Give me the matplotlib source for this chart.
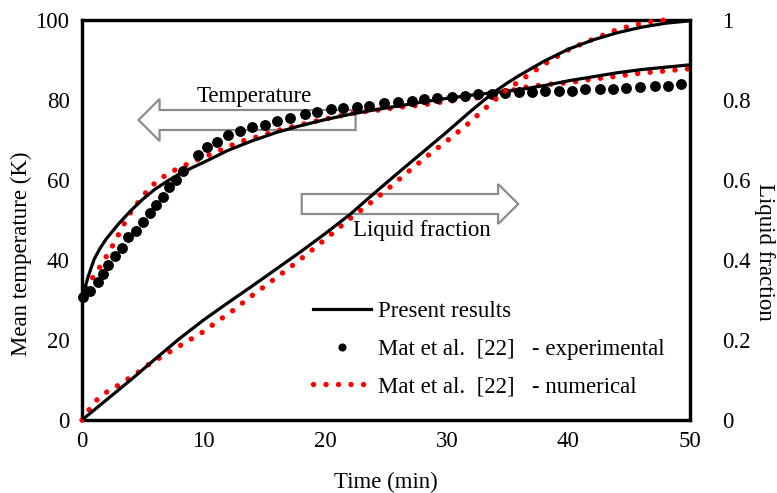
import matplotlib
matplotlib.use("Agg")
import matplotlib.pyplot as plt
from matplotlib.patches import FancyArrow
from matplotlib.lines import Line2D

plt.rcParams['font.family'] = ['Liberation Serif', 'DejaVu Serif']

# ---- data ----
# Present results: mean temperature (K)
t_pres_T = [0, 0.2, 0.5, 1, 1.5, 2, 3, 4, 5, 6, 7, 8, 9, 10, 12, 14, 16, 18, 20,
            22, 24, 26, 28, 30, 32, 34, 35, 36, 38, 40, 42, 44, 46, 48, 50]
T_pres = [30, 32.5, 35.8, 40.2, 43, 45.3, 49, 52.3, 55.2, 57.7, 59.7, 61.5, 63, 64.4,
          67.4, 69.8, 71.9, 73.6, 75.1, 76.4, 77.5, 78.5, 79.5, 80.4, 81.2, 81.9,
          82.2, 82.6, 83.6, 84.8, 85.8, 86.8, 87.6, 88.2, 88.8]

# Present results: liquid fraction
t_pres_LF = [0, 2, 4, 6, 8, 10, 12, 14, 16, 18, 20, 22, 24, 26, 28, 30, 32, 33,
             34, 35, 36, 38, 40, 42, 44, 46, 48, 50]
LF_pres = [0, 0.05, 0.1, 0.152, 0.203, 0.25, 0.293, 0.335, 0.378, 0.421, 0.466,
           0.513, 0.566, 0.618, 0.669, 0.72, 0.773, 0.798, 0.822, 0.843, 0.862,
           0.897, 0.927, 0.95, 0.968, 0.982, 0.992, 0.998]

# Mat et al. [22] - experimental (temperature)
t_exp = [0.1, 0.66, 1.29, 1.7, 2.17, 2.71, 3.32, 3.81, 4.44, 5.04, 5.6, 6.06, 6.63,
         7.18, 7.7, 8.3, 9.57, 10.25, 11.08, 12.03, 13.0, 14.0, 15.05, 16.05, 17.1,
         18.3, 19.35, 20.45, 21.5, 22.6, 23.6, 24.8, 26.0, 27.1, 28.15, 29.2, 30.4,
         31.5, 32.6, 33.7, 34.8, 35.9, 37.0, 38.1, 39.2, 40.3, 41.4, 42.6, 43.7,
         44.7, 45.9, 47.1, 48.2, 49.3]
T_exp = [30.8, 32.3, 34.6, 36.5, 38.75, 41.1, 42.9, 45.7, 47.3, 49.4, 51.7, 53.75,
         55.8, 58.2, 60.0, 62.2, 66.2, 68.3, 69.6, 71.3, 72.2, 73.3, 73.8, 74.8,
         75.6, 76.6, 77.1, 77.7, 78.0, 78.3, 78.6, 79.3, 79.6, 79.8, 80.2, 80.6,
         80.8, 81.0, 81.6, 81.5, 81.7, 81.9, 81.9, 82.3, 82.3, 82.3, 82.7, 82.7,
         82.7, 82.9, 83.3, 83.5, 83.5, 84.0]

# Mat et al. [22] - numerical (temperature)
t_num_T = [0, 0.5, 1.07, 2.17, 2.7, 3.67, 4.2, 4.9, 5.5, 6.3, 7.2, 8.1, 9.15, 10.1,
           11.1, 12.0, 13.0, 14.0, 14.9, 16.0, 17.0, 18.1, 19.2, 20.1, 21.2, 22.2,
           23.3, 24.4, 25.3, 26.4, 27.4, 28.5, 29.6, 30.5, 31.6, 32.7, 34.9, 35.9,
           36.8, 37.9, 39.0, 40.0, 41.0, 42.0, 43.1, 44.1, 45.1, 46.2, 47.3, 48.3,
           49.3, 50]
T_num = [30, 34.2, 36.3, 41.7, 44.6, 50.2, 52.9, 55.4, 57.9, 60.0, 61.8, 63.2, 64.6,
         65.8, 67.1, 68.3, 69.6, 70.4, 71.25, 72.3, 73.1, 73.9, 74.7, 75.3, 76.0,
         76.7, 77.1, 77.5, 77.9, 78.3, 78.6, 79.0, 79.5, 79.8, 80.3, 80.6, 82.1,
         82.8, 83.4, 83.75, 84.1, 84.3, 84.8, 85.2, 85.6, 86.0, 86.4, 86.8, 87.1,
         87.3, 87.7, 87.8]

# Mat et al. [22] - numerical (liquid fraction)
t_num_LF = [0, 0.66, 1.29, 2.17, 3.04, 3.95, 4.8, 5.67, 6.55, 7.46, 8.4, 9.3, 10.2,
            11.0, 11.9, 12.7, 13.5, 17.0, 18.6, 20.25, 21.9, 23.5, 25.2, 26.8, 28.5,
            30.1, 31.8, 33.3, 34.9, 36.6, 38.35, 40.2, 42.2, 44.1, 46.2, 47.2, 48.0]
LF_num = [0, 0.029, 0.0525, 0.073, 0.0875, 0.106, 0.123, 0.143, 0.158, 0.175, 0.192,
          0.208, 0.225, 0.244, 0.2625, 0.28, 0.30, 0.379, 0.417, 0.458, 0.50, 0.5375,
          0.579, 0.62, 0.6625, 0.70, 0.742, 0.783, 0.825, 0.86, 0.896, 0.929, 0.954,
          0.977, 0.993, 0.998, 1.0]

x_ticks = [0, 10, 20, 30, 40, 50]
yl_ticks = [0, 20, 40, 60, 80, 100]
yr_ticks = [0, 0.2, 0.4, 0.6, 0.8, 1.0]
yr_labels = ['0', '0.2', '0.4', '0.6', '0.8', '1']

FS = 16.5
W, H = 777, 493
fig = plt.figure(figsize=(W / 100, H / 100), dpi=100)
ax = fig.add_axes([82 / W, (H - 420) / H, 608 / W, 400 / H])
ax2 = ax.twinx()

ax.set_xlim(0, 50)
ax.set_ylim(0, 100)
ax2.set_ylim(0, 1)

red = '#ff0000'
dot_style = (0, (0.01, 2.3))

# arrows (behind data)
ax.add_patch(FancyArrow(22.5, 75, -17.85, 0, width=5, head_width=10.5, head_length=1.73,
                        length_includes_head=True, fc='white', ec='#8c8c8c', lw=1.6,
                        zorder=1))
ax.add_patch(FancyArrow(18.07, 54.0, 17.8, 0, width=5, head_width=10, head_length=1.65,
                        length_includes_head=True, fc='white', ec='#8c8c8c', lw=1.6,
                        zorder=1))
ax.text(14.2, 80.9, 'Temperature', fontsize=FS, ha='center', va='center', zorder=2)
ax.text(27.93, 47.3, 'Liquid fraction', fontsize=FS, ha='center', va='center', zorder=2)

# temperature series (left axis)
ax.plot(t_num_T, T_num, color=red, lw=3.9, linestyle=dot_style,
        dash_capstyle='round', zorder=3)
ax.plot(t_exp, T_exp, 'o', color='black', ms=6.8, zorder=4, clip_on=False)
ax.plot(t_pres_T, T_pres, color='black', lw=2.3, zorder=5)

# liquid fraction series (right axis)
ax2.plot(t_num_LF, LF_num, color=red, lw=3.9, linestyle=dot_style,
         dash_capstyle='round', zorder=3, clip_on=False)
ax2.plot(t_pres_LF, LF_pres, color='black', lw=2.3, zorder=5)

# ticks and labels
ax.set_xticks(x_ticks)
ax.set_yticks(yl_ticks)
ax2.set_yticks(yr_ticks)
ax2.set_yticklabels(yr_labels)
ax.tick_params(axis='both', length=0, labelsize=FS, pad=9)
ax.tick_params(axis='x', pad=8)
ax2.tick_params(axis='y', length=0, labelsize=FS, pad=23)

for a in (ax, ax2):
    for s in a.spines.values():
        s.set_linewidth(2.3)
        s.set_color('black')

ax.set_xlabel('Time (min)', fontsize=FS, va='center')
ax.xaxis.set_label_coords(0.5, -0.157)
ax.set_ylabel('Mean temperature (K)', fontsize=FS, va='center')
ax.yaxis.set_label_coords(-0.1, 0.415)
ax2.set_ylabel('Liquid fraction', fontsize=FS, rotation=270, va='center')
ax2.yaxis.set_label_coords(1.123, 0.42)

handles = [
    Line2D([], [], color='black', lw=2.3),
    Line2D([], [], color='black', marker='o', ms=4.8, linestyle='none'),
    Line2D([], [], color=red, lw=3.9, linestyle=dot_style, dash_capstyle='round'),
]
labels = ['Present results',
          'Mat et al.  [22]   - experimental',
          'Mat et al.  [22]   - numerical']
leg = ax2.legend(handles, labels, loc='center left',
                 bbox_to_anchor=(313 / W, 1 - 349 / H), bbox_transform=fig.transFigure,
                 frameon=False, fontsize=FS, handlelength=2.55, handletextpad=0.3,
                 labelspacing=0.72, borderpad=0, borderaxespad=0)
leg.set_zorder(10)

fig.savefig('out.png', dpi=100)
